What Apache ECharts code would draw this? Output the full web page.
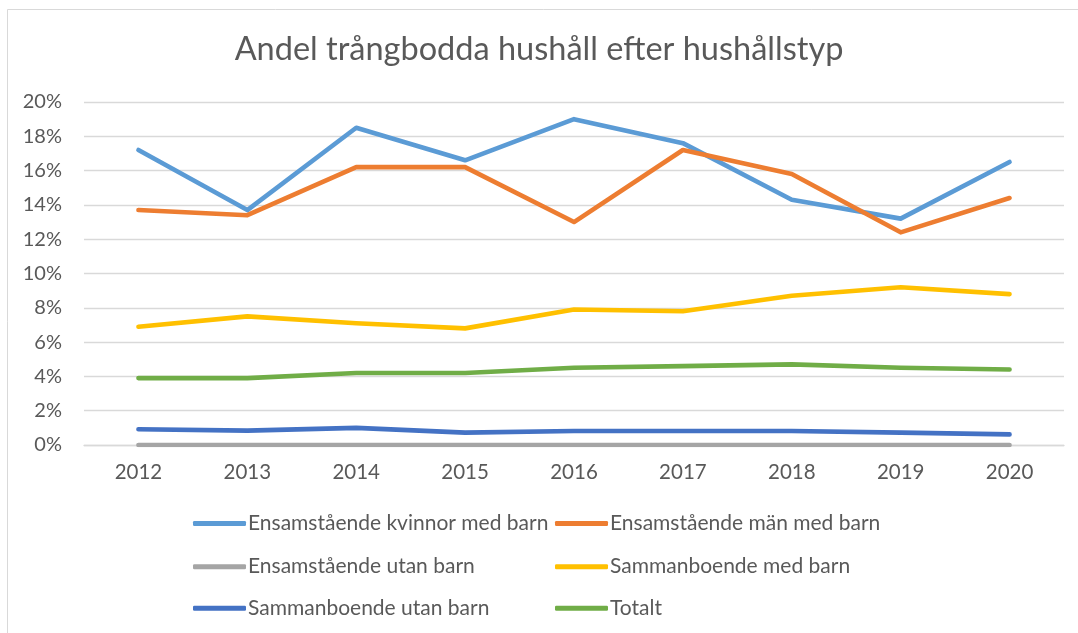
<!DOCTYPE html>
<html>
<head>
<meta charset="utf-8">
<script src="https://cdn.jsdelivr.net/npm/echarts@6/dist/echarts.min.js"></script>
<style>
html,body{margin:0;padding:0;background:#fff;}
#chart{width:1078px;height:633px;}
</style>
</head>
<body>
<div id="chart"></div>
<script>
const years = ['2012','2013','2014','2015','2016','2017','2018','2019','2020'];
const kvinnorMedBarn = [17.2, 13.7, 18.5, 16.6, 19.0, 17.6, 14.3, 13.2, 16.5];
const manMedBarn = [13.7, 13.4, 16.2, 16.2, 13.0, 17.2, 15.8, 12.4, 14.4];
const ensamUtanBarn = [0, 0, 0, 0, 0, 0, 0, 0, 0];
const sammanMedBarn = [6.9, 7.5, 7.1, 6.8, 7.9, 7.8, 8.7, 9.2, 8.8];
const sammanUtanBarn = [0.92, 0.84, 1.0, 0.72, 0.82, 0.82, 0.82, 0.72, 0.62];
const totalt = [3.9, 3.9, 4.2, 4.2, 4.5, 4.6, 4.7, 4.5, 4.4];
const seriesNames = ['Ensamstående kvinnor med barn','Ensamstående män med barn','Ensamstående utan barn','Sammanboende med barn','Sammanboende utan barn','Totalt'];
const colors = ['#5b9bd5','#ed7d31','#a5a5a5','#ffc000','#4472c4','#70ad47'];
const yTicks = [0,2,4,6,8,10,12,14,16,18,20];

const FONT = 'Lato';
const chart = echarts.init(document.getElementById('chart'));
const dataArr = [kvinnorMedBarn, manMedBarn, ensamUtanBarn, sammanMedBarn, sammanUtanBarn, totalt];
const series = dataArr.map((d,i)=>({
  name: seriesNames[i], type:'line', data:d, symbol:'none', smooth:false,
  lineStyle:{width:4.6, color:colors[i], cap:'round', join:'round'},
  itemStyle:{color:colors[i]}, z: 2 + i
}));
const legendCommon = {
  icon:'roundRect', itemWidth:53, itemHeight:5, itemGap:4, padding:0,
  textStyle:{fontFamily:FONT, fontSize:21, color:'#595959', padding:[0,0,0,-3], lineHeight:22}
};
const legendPos = [[193,512.5],[555,512.5],[193,555.7],[555,555.7],[193,597.3],[555,597.3]];
chart.setOption({
  animation:false,
  backgroundColor:'#fff',
  color: colors,
  title:{text:'Andel trångbodda hushåll efter hushållstyp', left:'center', top:28,
    textStyle:{fontFamily:FONT, fontSize:32.5, fontWeight:'normal', color:'#595959'}},
  graphic:[{type:'rect', shape:{x:7.5,y:9.5,width:1200,height:800}, style:{fill:'none', stroke:'#d9d9d9', lineWidth:1}, silent:true}],
  legend: seriesNames.map((n,i)=>Object.assign({left:legendPos[i][0], top:legendPos[i][1], data:[n]}, legendCommon)),
  grid:{left:84, right:14, top:102, bottom:188, containLabel:false},
  xAxis:{type:'category', data:years, boundaryGap:true,
    axisLine:{show:true, lineStyle:{color:'#d9d9d9', width:1.3}},
    axisTick:{show:false},
    axisLabel:{fontFamily:FONT, fontSize:20.5, color:'#595959', margin:17}},
  yAxis:{type:'value', min:yTicks[0], max:yTicks[yTicks.length-1], interval:2,
    axisLine:{show:false}, axisTick:{show:false},
    splitLine:{lineStyle:{color:'#d9d9d9', width:1.3}},
    axisLabel:{fontFamily:FONT, fontSize:20, color:'#595959', margin:22, formatter:v=>v+'%'}},
  series: series
});
</script>
</body>
</html>
